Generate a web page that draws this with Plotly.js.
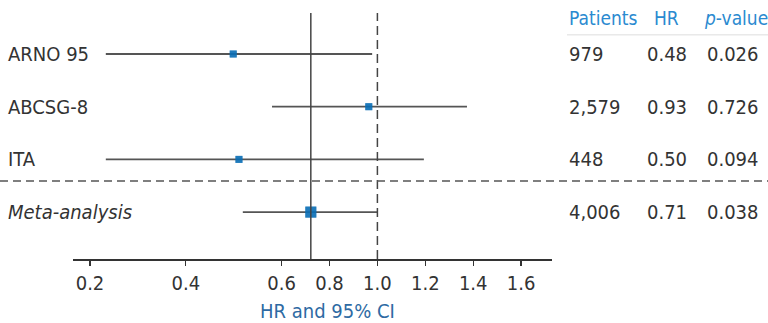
<!DOCTYPE html>
<html>
<head>
<meta charset="utf-8">
<script src="https://cdn.plot.ly/plotly-3.0.1.min.js"></script>
<style>html,body{margin:0;padding:0;background:#fff;}#chart{width:768px;height:323px;}</style>
</head>
<body>
<div id="chart"></div>
<script>
// ---- data ----
const studies = ['ARNO 95', 'ABCSG-8', 'ITA', 'Meta-analysis'];
const patients = ['979', '2,579', '448', '4,006'];
const hrText = ['0.48', '0.93', '0.50', '0.71'];
const pText = ['0.026', '0.726', '0.094', '0.038'];
// plotted positions
const estPlot = [0.499, 0.964, 0.511, 0.722];
const ciLow = [0.233, 0.58, 0.233, 0.519];
const ciHigh = [0.978, 1.374, 1.194, 1.0];
const markerSizes = [7, 7, 7, 11];
const tickValues = [0.2, 0.4, 0.6, 0.8, 1.0, 1.2, 1.4, 1.6];
const tickLabels = ['0.2', '0.4', '0.6', '0.8', '1.0', '1.2', '1.4', '1.6'];
const headers = ['Patients', 'HR', '<i>p</i>-value'];

// piecewise scale of the original axis (0.2–0.6 stretched twice)
function scale(hr) {
  return hr < 0.6 ? (hr - 0.2) * 10 : 4 + (hr - 0.6) * 5;
}

const FONT = "'DejaVu Sans Condensed', 'Liberation Sans', Arial, sans-serif";
const TXT = '#333333';
const HEAD = '#2a8ad0';
const MARK = '#0a6db5';
const FS = 20;

const L = 73, W = 479;
const px2paper = p => (p - L) / W;
const rows = studies.map((_, i) => i);

const traces = [{
  type: 'scatter', mode: 'markers',
  x: estPlot.map(scale), y: rows,
  marker: {symbol: 'square', size: markerSizes, color: MARK, line: {width: 0}},
  error_x: {
    type: 'data', symmetric: false,
    array: ciHigh.map((h, i) => scale(h) - scale(estPlot[i])),
    arrayminus: ciLow.map((l, i) => scale(estPlot[i]) - scale(l)),
    width: 0, thickness: 1.8, color: '#555555'
  },
  hoverinfo: 'skip', showlegend: false
}];
// draw markers on top of error bars
traces.push({
  type: 'scatter', mode: 'markers',
  x: estPlot.map(scale), y: rows,
  marker: {symbol: 'square', size: markerSizes, color: MARK, line: {width: 0}},
  hoverinfo: 'skip', showlegend: false
});

const annotations = [];
studies.forEach((s, i) => {
  annotations.push({xref: 'paper', yref: 'y', x: px2paper(6), y: i, xanchor: 'left', yanchor: 'middle',
    text: i === studies.length - 1 ? '<i>' + s + '</i>' : s, showarrow: false,
    font: {family: FONT, size: FS, color: TXT}});
  annotations.push({xref: 'paper', yref: 'y', x: px2paper(567), y: i, xanchor: 'left', yanchor: 'middle',
    text: patients[i], showarrow: false, font: {family: FONT, size: FS, color: TXT}});
  annotations.push({xref: 'paper', yref: 'y', x: px2paper(645), y: i, xanchor: 'left', yanchor: 'middle',
    text: hrText[i], showarrow: false, font: {family: FONT, size: FS, color: TXT}});
  annotations.push({xref: 'paper', yref: 'y', x: px2paper(705), y: i, xanchor: 'left', yanchor: 'middle',
    text: pText[i], showarrow: false, font: {family: FONT, size: FS, color: TXT}});
});
const headX = [567, 652, 702];
headers.forEach((h, j) => {
  annotations.push({xref: 'paper', yref: 'y', x: px2paper(headX[j]), y: -0.684, xanchor: 'left', yanchor: 'middle',
    text: h, showarrow: false, font: {family: FONT, size: 19, color: HEAD}});
});
annotations.push({xref: 'paper', yref: 'paper', x: px2paper(327), y: -0.212, xanchor: 'center', yanchor: 'middle',
  text: 'HR and 95% CI', showarrow: false, font: {family: FONT, size: FS, color: '#2e6aa3'}});

const shapes = [
  {type: 'line', xref: 'x', yref: 'paper', x0: scale(estPlot[3]), x1: scale(estPlot[3]), y0: 0, y1: 1,
    line: {color: '#444444', width: 1.5}},
  {type: 'line', xref: 'x', yref: 'paper', x0: scale(1.0), x1: scale(1.0), y0: 0, y1: 1,
    line: {color: '#444444', width: 1.5, dash: '9px,5px'}},
  {type: 'line', xref: 'paper', yref: 'y', x0: px2paper(0), x1: px2paper(768), y0: 2.411, y1: 2.411,
    line: {color: '#555555', width: 1.5, dash: '8px,5px'}},
  {type: 'line', xref: 'paper', yref: 'y', x0: px2paper(567), x1: px2paper(768), y0: -0.363, y1: -0.363,
    line: {color: '#dddddd', width: 1}}
];

const layout = {
  width: 768, height: 323,
  margin: {l: L, r: 768 - L - W, t: 13, b: 64, pad: 0},
  paper_bgcolor: '#ffffff', plot_bgcolor: '#ffffff',
  font: {family: FONT, color: TXT},
  xaxis: {
    range: [-0.355, 9.645], showgrid: false, zeroline: false,
    showline: true, linecolor: '#333333', linewidth: 1.5,
    ticks: 'outside', ticklen: 5, tickwidth: 1.2, tickcolor: '#333333',
    tickvals: tickValues.map(scale), ticktext: tickLabels,
    tickfont: {family: FONT, size: FS, color: TXT}
  },
  yaxis: {range: [3.89, -0.778], visible: false, showgrid: false, zeroline: false},
  annotations: annotations,
  shapes: shapes,
  showlegend: false
};

Plotly.newPlot('chart', traces, layout, {displayModeBar: false, staticPlot: true});
</script>
</body>
</html>
